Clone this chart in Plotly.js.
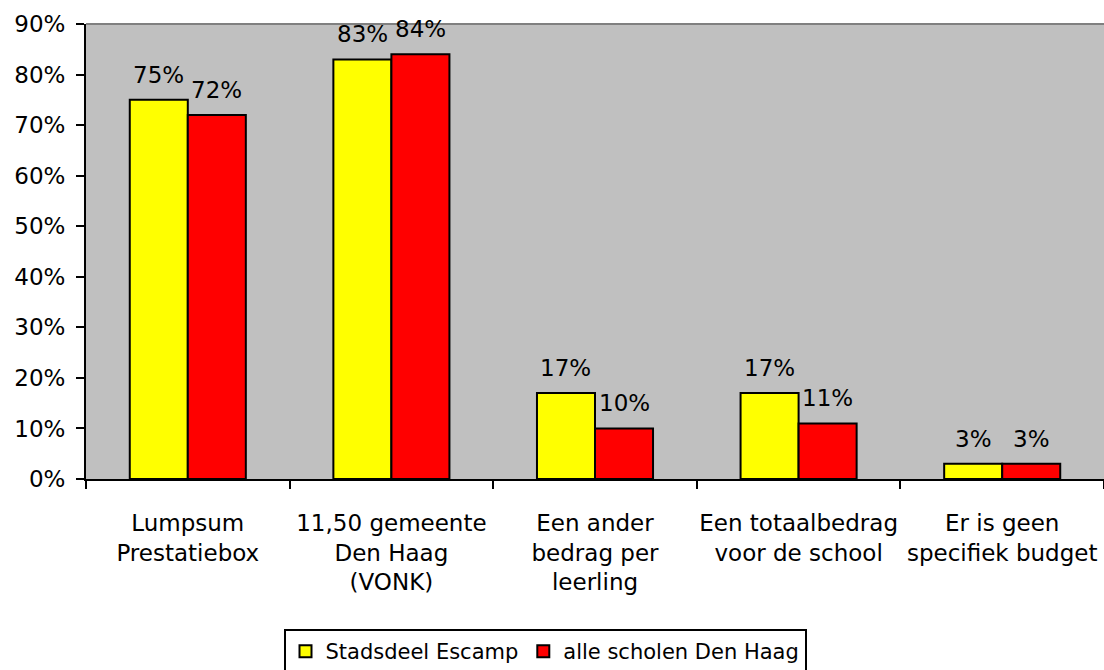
<!DOCTYPE html>
<html>
<head>
<meta charset="utf-8">
<script src="https://cdn.plot.ly/plotly-3.0.1.min.js"></script>
<style>html,body{margin:0;padding:0;background:#fff;}#chart{width:1104px;height:670px;}</style>
</head>
<body>
<div id="chart"></div>
<script>
const categories = [
  "Lumpsum<br>Prestatiebox",
  "11,50 gemeente<br>Den Haag<br>(VONK)",
  "Een ander<br>bedrag per<br>leerling",
  "Een totaalbedrag<br>voor de school",
  "Er is geen<br>specifiek budget"
];
const seriesNames = ["Stadsdeel Escamp", "alle scholen Den Haag"];
const escamp = [75, 83, 17, 17, 3];
const denHaag = [72, 84, 10, 11, 3];
const yTicks = [0, 10, 20, 30, 40, 50, 60, 70, 80, 90];

const font = {family: "DejaVu Sans, Verdana, sans-serif", size: 23, color: "#000"};
const legendFont = {family: "DejaVu Sans, Verdana, sans-serif", size: 21, color: "#000"};
const BARGAP = 0.43;

function barTrace(name, values, color) {
  return {
    type: "bar",
    name: name,
    x: categories,
    y: values,
    marker: {color: color, line: {color: "#000", width: 2}},
    hoverinfo: "skip"
  };
}

const data = [
  barTrace(seriesNames[0], escamp, "#FFFF00"),
  barTrace(seriesNames[1], denHaag, "#FF0000")
];

// value labels above each bar, placed on the category axis at the bar centres
const half = (1 - BARGAP) / 4;
const annotations = [];
[escamp, denHaag].forEach((vals, s) => {
  vals.forEach((v, i) => {
    annotations.push({
      xref: "x", yref: "y",
      x: i + (s === 0 ? -half : half),
      y: v,
      text: v + "%",
      showarrow: false,
      yanchor: "bottom",
      yshift: 10,
      font: font
    });
  });
});

const layout = {
  width: 1104,
  height: 670,
  margin: {l: 86, r: 0, t: 24, b: 191},
  paper_bgcolor: "#fff",
  plot_bgcolor: "#C0C0C0",
  font: font,
  barmode: "group",
  bargap: BARGAP,
  bargroupgap: 0,
  showlegend: true,
  legend: {
    orientation: "h",
    xref: "container",
    yref: "container",
    x: 545 / 1104,
    xanchor: "center",
    y: 1 - 629 / 670,
    yanchor: "top",
    bgcolor: "#fff",
    bordercolor: "#000",
    borderwidth: 2,
    font: legendFont,
    itemclick: false
  },
  annotations: annotations,
  xaxis: {
    type: "category",
    automargin: false,
    tickangle: 0,
    tickson: "boundaries",
    ticks: "outside",
    ticklen: 8,
    tickwidth: 2,
    tickcolor: "#000",
    showline: true,
    linecolor: "#000",
    linewidth: 2,
    showgrid: false,
    tickfont: font,
    ticklabelstandoff: 22,
    fixedrange: true
  },
  yaxis: {
    automargin: false,
    range: [0, 90],
    tickvals: yTicks,
    ticktext: yTicks.map(v => v + "%"),
    ticks: "outside",
    ticklen: 8,
    tickwidth: 2,
    tickcolor: "#000",
    showline: true,
    linecolor: "#000",
    linewidth: 2,
    showgrid: false,
    zeroline: false,
    tickfont: font,
    ticklabelstandoff: 6,
    fixedrange: true
  },
  shapes: [{
    type: "line", xref: "paper", yref: "paper",
    x0: 0, x1: 1, y0: 1, y1: 1,
    line: {color: "#808080", width: 2}
  }]
};

Plotly.newPlot("chart", data, layout, {displayModeBar: false, staticPlot: true});
</script>
</body>
</html>
